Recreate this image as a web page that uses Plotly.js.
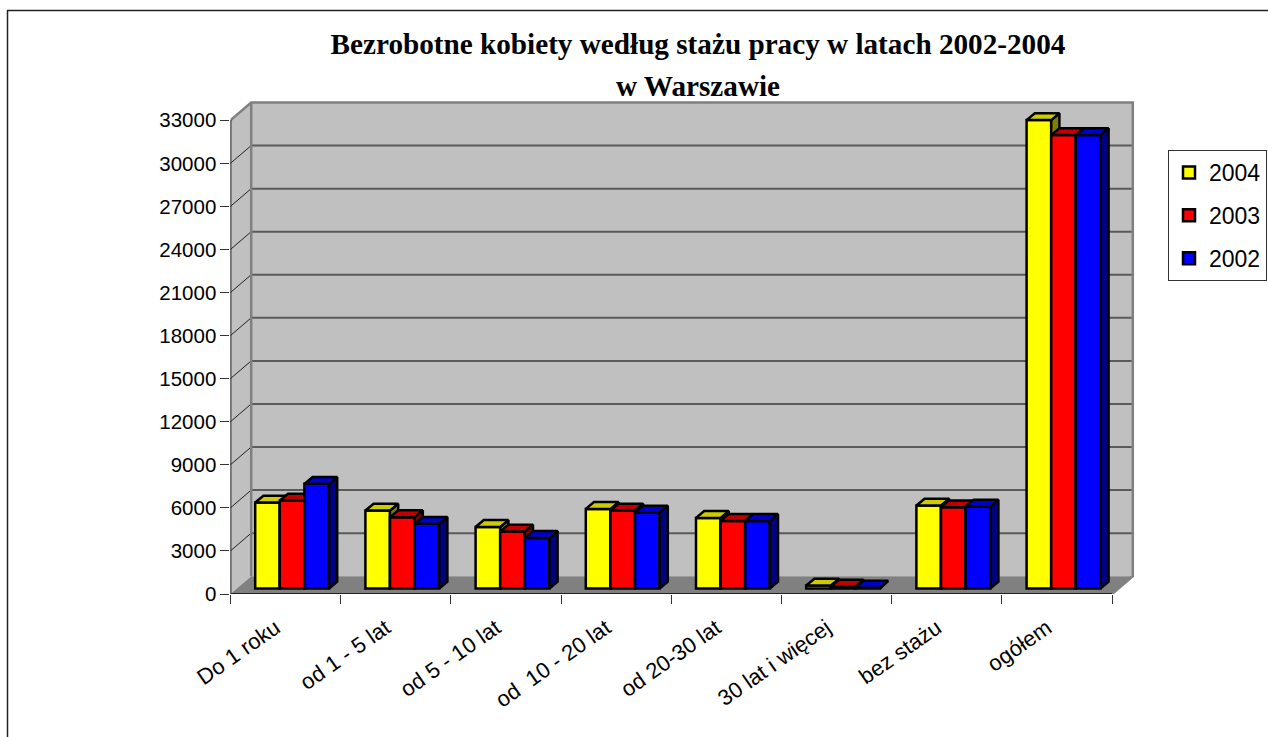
<!DOCTYPE html>
<html>
<head>
<meta charset="utf-8">
<script src="https://cdn.plot.ly/plotly-3.0.1.min.js"></script>
<style>html,body{margin:0;padding:0;background:#fff}</style>
</head>
<body>
<div id="chart" style="width:1268px;height:737px"></div>
<script>
const categories = ["Do 1 roku","od 1 - 5 lat","od 5 - 10 lat","od  10 - 20 lat","od 20-30 lat","30 lat i więcej","bez stażu","ogółem"];
const series2004 = [5990,5430,4290,5545,4920,210,5780,32630];
const series2003 = [6130,4970,3970,5430,4710,130,5665,31585];
const series2002 = [7290,4510,3525,5295,4710,60,5710,31585];
const yTicks = [0,3000,6000,9000,12000,15000,18000,21000,24000,27000,30000,33000];

const W = 1268, H = 737;
const AX_L = 230.4, CAT_W = 110.2, AX_B = 594, AX_T = 120.3, PLOT_R = 1142, PLOT_T = 96;
const N = categories.length, YMAX = 33000;
const perPx = YMAX / (AX_B - AX_T);
const xu = p => p / CAT_W, yu = p => p * perPx;
const xRange = [0, xu(PLOT_R - AX_L)], yRange = [0, yu(AX_B - PLOT_T)];
const wallDX = xu(20.8), wallDY = yu(17.8);
const barW = xu(24.6), barShift = xu(6.6), barBase = yu(5.5), barDX = xu(8.2), barDY = yu(6.8);

function poly(list){ const xs=[], ys=[]; list.forEach(p=>{ p.forEach(c=>{xs.push(c[0]);ys.push(c[1]);}); xs.push(p[0][0]); ys.push(p[0][1]); xs.push(null); ys.push(null); }); return {x:xs,y:ys}; }
const traces = [];
function fillTrace(list, fill, lineColor, lw, ax){
  const d = poly(list);
  traces.push({type:'scatter',mode:'lines',x:d.x,y:d.y,fill:'toself',fillcolor:fill,
    line:{color:lineColor,width:lw},xaxis:ax[0],yaxis:ax[1],showlegend:false,hoverinfo:'skip',cliponaxis:false});
}
function lineTrace(x,y,color,w,ax){
  traces.push({type:'scatter',mode:'lines',x:x,y:y,line:{color:color,width:w},xaxis:ax[0],yaxis:ax[1],showlegend:false,hoverinfo:'skip',cliponaxis:false});
}
const A0 = ['x','y'];
// walls and floor
fillTrace([[[0,0],[wallDX,wallDY],[wallDX,YMAX+wallDY],[0,YMAX]]],'#c0c0c0','#c0c0c0',0,A0);
fillTrace([[[wallDX,wallDY],[N+wallDX,wallDY],[N+wallDX,YMAX+wallDY],[wallDX,YMAX+wallDY]]],'#c0c0c0','#c0c0c0',0,A0);
fillTrace([[[0,0],[wallDX,wallDY],[N+wallDX,wallDY],[N,0]]],'#808080','#808080',0,A0);
// gridlines
yTicks.slice(1,-1).forEach(v=>{
  lineTrace([wallDX,N+wallDX],[v+wallDY,v+wallDY],'#5a5a5a',2,A0);
  lineTrace([0,wallDX],[v,v+wallDY],'#222222',1,A0);
});
// wall edges
lineTrace([0,wallDX,N+wallDX,N+wallDX,N],[YMAX,YMAX+wallDY,YMAX+wallDY,wallDY,0],'#808080',2.5,A0);
lineTrace([wallDX,wallDX],[wallDY,YMAX+wallDY],'#808080',2.5,A0);
// front axes lines
lineTrace([0,0,N],[YMAX,0,0],'#222222',2,A0);

const seriesDefs = [
  {name:'2004',vals:series2004,front:'#ffff00',top:'#cccc00',side:'#808000',ax:['x2','y2'],k:0},
  {name:'2003',vals:series2003,front:'#ff0000',top:'#c00000',side:'#800000',ax:['x3','y3'],k:1},
  {name:'2002',vals:series2002,front:'#0000ff',top:'#0000cc',side:'#000080',ax:['x4','y4'],k:2}
];
seriesDefs.forEach(s=>{
  const cx = s.vals.map((v,i)=> i+0.5+barShift+(s.k-1)*barW);
  const sides = [], tops = [];
  s.vals.forEach((v,i)=>{
    const l=cx[i]-barW/2, r=cx[i]+barW/2, b=barBase, t=barBase+v;
    sides.push([[r,b],[r+barDX,b+barDY],[r+barDX,t+barDY],[r,t]]);
    tops.push([[l,t],[l+barDX,t+barDY],[r+barDX,t+barDY],[r,t]]);
  });
  traces.push({type:'bar',name:s.name,x:cx,y:s.vals,base:s.vals.map(()=>barBase),width:barW,
    marker:{color:s.front,line:{color:'#000',width:2.5}},xaxis:s.ax[0],yaxis:s.ax[1],legendgroup:s.name,cliponaxis:false,hoverinfo:'y'});
  fillTrace(sides,s.side,'#000',2.5,s.ax);
  fillTrace(tops,s.top,'#000',2.5,s.ax);
});

const hidden = (over,range)=>({overlaying:over,range:range,visible:false,fixedrange:true});
const layout = {
  width:W,height:H,paper_bgcolor:'#fff',plot_bgcolor:'rgba(0,0,0,0)',
  margin:{l:0,r:0,t:0,b:0},showlegend:true,
  font:{family:'"Liberation Sans",Arial,sans-serif',color:'#000'},
  title:{text:'<b>Bezrobotne kobiety według stażu pracy w latach 2002-2004</b>',
    font:{family:'"Liberation Serif",serif',size:29.2,color:'#000'},
    x:698/W,xanchor:'center',xref:'paper',y:1-44/H,yanchor:'middle',yref:'paper'},
  annotations:[{text:'<b>w Warszawie</b>',font:{family:'"Liberation Serif",serif',size:29.2,color:'#000'},
    xref:'paper',yref:'paper',x:698/W,y:1-86/H,xanchor:'center',yanchor:'middle',showarrow:false}],
  xaxis:{domain:[AX_L/W,PLOT_R/W],range:xRange,fixedrange:true,showgrid:false,zeroline:false,showline:false,
    tickmode:'array',tickvals:categories.map((c,i)=>i+0.5-xu(10)),ticktext:categories,ticks:'',tickangle:-35,
    ticklabelstandoff:16,tickfont:{size:22,color:'#000'},
    minor:{tickmode:'array',tickvals:categories.map((c,i)=>i).concat([N]),ticks:'outside',ticklen:9,tickwidth:1,tickcolor:'#333',showgrid:false}},
  yaxis:{domain:[1-AX_B/H,1-PLOT_T/H],range:yRange,fixedrange:true,showgrid:false,zeroline:false,showline:false,
    tickmode:'array',tickvals:yTicks,ticktext:yTicks.map(String),ticks:'outside',ticklen:9,tickwidth:1,tickcolor:'#333',
    tickfont:{size:20.5,color:'#000'}},
  xaxis2:hidden('x',xRange),yaxis2:hidden('y',yRange),
  xaxis3:hidden('x',xRange),yaxis3:hidden('y',yRange),
  xaxis4:hidden('x',xRange),yaxis4:hidden('y',yRange),
  barmode:'overlay',
  legend:{x:1168/W,y:1-150/H,xanchor:'left',yanchor:'top',bgcolor:'#fff',bordercolor:'#333',borderwidth:1,
    font:{size:23,color:'#000'},traceorder:'grouped',tracegroupgap:10,itemwidth:30,itemclick:false,itemdoubleclick:false},
  shapes:[
    {type:'line',xref:'paper',yref:'paper',x0:7.5/W,x1:7.5/W,y0:1-10.5/H,y1:0,line:{color:'#222',width:1.5}},
    {type:'line',xref:'paper',yref:'paper',x0:7/W,x1:1,y0:1-10.5/H,y1:1-10.5/H,line:{color:'#222',width:1.5}}
  ]
};
Plotly.newPlot('chart',traces,layout,{displayModeBar:false,responsive:false});
</script>
</body>
</html>
